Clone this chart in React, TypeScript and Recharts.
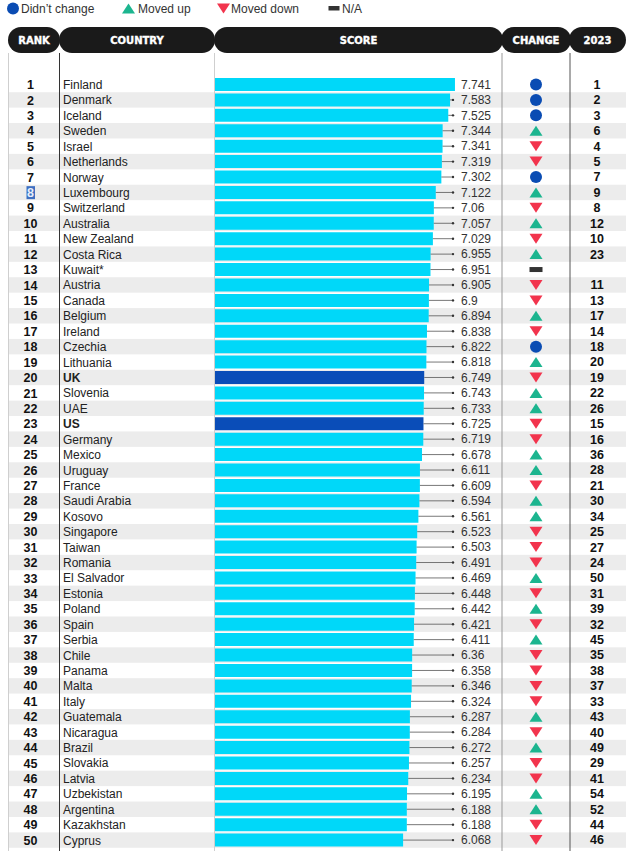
import { BarChart, Bar, XAxis, YAxis, Cell, LabelList, Customized } from 'recharts'

// World Happiness ranking, top 50 (2024 scores, change vs 2023 rank)
const countries = [
  'Finland', 'Denmark', 'Iceland', 'Sweden', 'Israel', 'Netherlands', 'Norway', 'Luxembourg',
  'Switzerland', 'Australia', 'New Zealand', 'Costa Rica', 'Kuwait*', 'Austria', 'Canada',
  'Belgium', 'Ireland', 'Czechia', 'Lithuania', 'UK', 'Slovenia', 'UAE', 'US', 'Germany',
  'Mexico', 'Uruguay', 'France', 'Saudi Arabia', 'Kosovo', 'Singapore', 'Taiwan', 'Romania',
  'El Salvador', 'Estonia', 'Poland', 'Spain', 'Serbia', 'Chile', 'Panama', 'Malta', 'Italy',
  'Guatemala', 'Nicaragua', 'Brazil', 'Slovakia', 'Latvia', 'Uzbekistan', 'Argentina',
  'Kazakhstan', 'Cyprus',
]

const scores = [
  7.741, 7.583, 7.525, 7.344, 7.341, 7.319, 7.302, 7.122, 7.06, 7.057,
  7.029, 6.955, 6.951, 6.905, 6.9, 6.894, 6.838, 6.822, 6.818, 6.749,
  6.743, 6.733, 6.725, 6.719, 6.678, 6.611, 6.609, 6.594, 6.561, 6.523,
  6.503, 6.491, 6.469, 6.448, 6.442, 6.421, 6.411, 6.36, 6.358, 6.346,
  6.324, 6.287, 6.284, 6.272, 6.257, 6.234, 6.195, 6.188, 6.188, 6.068,
]

const changes = [
  'same', 'same', 'same', 'up', 'down', 'down', 'same', 'up', 'down', 'up',
  'down', 'up', 'na', 'down', 'down', 'up', 'down', 'same', 'up', 'down',
  'up', 'up', 'down', 'down', 'up', 'up', 'down', 'up', 'up', 'down',
  'down', 'down', 'up', 'down', 'up', 'down', 'up', 'down', 'down', 'down',
  'down', 'up', 'down', 'up', 'down', 'down', 'up', 'up', 'down', 'down',
]

const ranks2023: (number | null)[] = [
  1, 2, 3, 6, 4, 5, 7, 9, 8, 12,
  10, 23, null, 11, 13, 17, 14, 18, 20, 19,
  22, 26, 15, 16, 36, 28, 21, 30, 34, 25,
  27, 24, 50, 31, 39, 32, 45, 35, 38, 37,
  33, 43, 40, 49, 29, 41, 54, 52, 44, 46,
]

const highlighted = ['UK', 'US']

const legendItems = [
  { key: 'same', label: 'Didn’t change' },
  { key: 'up', label: 'Moved up' },
  { key: 'down', label: 'Moved down' },
  { key: 'na', label: 'N/A' },
]

const rows = countries.map((country, i) => ({
  rank: i + 1,
  country,
  score: scores[i],
  change: changes[i],
  prev: ranks2023[i],
}))

const W = 628
const H = 851
const TOP = 77
const PLOT_H = 771
const BAND = PLOT_H / rows.length

const CYAN = '#00d8f9'
const NAVY = '#0a4db8'
const GREEN = '#1cb58f'
const RED = '#f2344d'
const DOT_BLUE = '#0a4cb3'
const INK = '#1a1a1a'
const FONT = '"Liberation Sans", Arial, sans-serif'
const HEAD_FONT = '"DejaVu Sans", Verdana, sans-serif'

const CHANGE_X = 536
const PREV_X = 597
const DOT_X = 453

function ChangeIcon({ kind, cx, cy }: { kind: string; cx: number; cy: number }) {
  if (kind === 'same') return <circle cx={cx} cy={cy} r={6} fill={DOT_BLUE} />
  if (kind === 'up')
    return <polygon points={`${cx - 6.5},${cy + 5} ${cx + 6.5},${cy + 5} ${cx},${cy - 5}`} fill={GREEN} />
  if (kind === 'down')
    return <polygon points={`${cx - 6.5},${cy - 5} ${cx + 6.5},${cy - 5} ${cx},${cy + 5}`} fill={RED} />
  return <rect x={cx - 6.5} y={cy - 2.5} width={13} height={5} fill="#333" />
}

function RowStripe(props: any) {
  const { index, y, height } = props
  if (index % 2 === 0) return <g />
  const cy = y + height / 2
  return <rect x={8} y={cy - BAND / 2} width={618} height={BAND} fill="#ececec" />
}

function RowTick(props: any) {
  const { y, payload } = props
  const row = rows[payload.index]
  if (!row) return <g />
  const bold = highlighted.includes(row.country)
  return (
    <g>
      {row.rank === 8 && <rect x={26.5} y={y - 6.5} width={8.5} height={13} fill="#3d6fc1" />}
      <text
        x={30.5}
        y={y + 4.4}
        textAnchor="middle"
        fontSize={12.5}
        fontWeight="bold"
        fill={row.rank === 8 ? '#e8eefa' : '#111'}
        fontFamily={FONT}
      >
        {row.rank}
      </text>
      <text
        x={63}
        y={y + 4.3}
        fontSize={12}
        fontWeight={bold ? 'bold' : 'normal'}
        fill="#222"
        fontFamily={FONT}
      >
        {row.country}
      </text>
    </g>
  )
}

function RowLabel(props: any) {
  const { x, y, width, height, index } = props
  const row = rows[index]
  if (!row) return null
  const cy = y + height / 2
  const end = x + width
  return (
    <g>
      {end < DOT_X - 2 && (
        <>
          <line x1={end} y1={cy} x2={DOT_X} y2={cy} stroke="#555" strokeWidth={0.8} />
          <circle cx={DOT_X} cy={cy} r={1.2} fill="#333" />
        </>
      )}
      <text x={461} y={cy + 4.3} fontSize={12} fill="#333" fontFamily={FONT}>
        {row.score}
      </text>
      <ChangeIcon kind={row.change} cx={CHANGE_X} cy={cy} />
      {row.prev != null && (
        <text
          x={PREV_X}
          y={cy + 4.4}
          textAnchor="middle"
          fontSize={12.5}
          fontWeight="bold"
          fill="#111"
          fontFamily={FONT}
        >
          {row.prev}
        </text>
      )}
    </g>
  )
}

const HEADERS = [
  { label: 'RANK', x: 8, w: 52 },
  { label: 'COUNTRY', x: 59, w: 156 },
  { label: 'SCORE', x: 214, w: 289 },
  { label: 'CHANGE', x: 501, w: 70 },
  { label: '2023', x: 569, w: 57 },
]

const LEGEND_POS = [
  { icon: 13, text: 21 },
  { icon: 128.5, text: 138 },
  { icon: 223.5, text: 231 },
  { icon: 334, text: 342 },
]

const COLUMN_LINES = [
  { x: 8.5, color: '#cfcfcf' },
  { x: 59.5, color: '#333' },
  { x: 214.5, color: '#cfcfcf' },
  { x: 502, color: '#999' },
  { x: 570, color: '#555' },
]

function Decor() {
  return (
    <g>
      {COLUMN_LINES.map((l) => (
        <line key={l.x} x1={l.x} y1={53} x2={l.x} y2={H} stroke={l.color} strokeWidth={1} />
      ))}
      {HEADERS.map((h) => (
        <g key={h.label}>
          <rect x={h.x} y={27} width={h.w} height={26} rx={13} ry={13} fill={INK} />
          <text
            x={h.x + h.w / 2}
            y={43.5}
            textAnchor="middle"
            fontSize={10}
            fontWeight="bold"
            fill="#fff"
            stroke="#fff"
            strokeWidth={0.35}
            fontFamily={HEAD_FONT}
          >
            {h.label}
          </text>
        </g>
      ))}
      {legendItems.map((item, i) => (
        <g key={item.key}>
          {item.key === 'na' ? (
            <rect x={LEGEND_POS[i].icon - 5.5} y={6} width={11} height={4.5} fill="#333" />
          ) : (
            <ChangeIcon kind={item.key} cx={LEGEND_POS[i].icon} cy={8.5} />
          )}
          <text x={LEGEND_POS[i].text} y={12.5} fontSize={12} fill="#333" fontFamily={FONT}>
            {item.label}
          </text>
        </g>
      ))}
    </g>
  )
}

export default function App() {
  return (
    <div style={{ position: 'absolute', left: 0, top: 0, width: W, height: H, background: '#fff' }}>
      <BarChart
        width={W}
        height={H}
        data={rows}
        layout="vertical"
        margin={{ top: TOP, right: 103, bottom: H - TOP - PLOT_H, left: 8 }}
        style={{ fontFamily: FONT }}
      >
        <XAxis type="number" domain={[0, 10]} hide />
        <YAxis
          type="category"
          dataKey="country"
          width={207}
          interval={0}
          axisLine={false}
          tickLine={false}
          tick={(p: any) => <RowTick {...p} />}
        />
        <Bar
          dataKey="score"
          barSize={13}
          background={(p: any) => <RowStripe {...p} />}
          isAnimationActive={false}
        >
          {rows.map((r) => (
            <Cell key={r.country} fill={highlighted.includes(r.country) ? NAVY : CYAN} />
          ))}
          <LabelList dataKey="score" content={(p: any) => <RowLabel {...p} />} />
        </Bar>
        <Customized component={Decor} />
      </BarChart>
    </div>
  )
}
